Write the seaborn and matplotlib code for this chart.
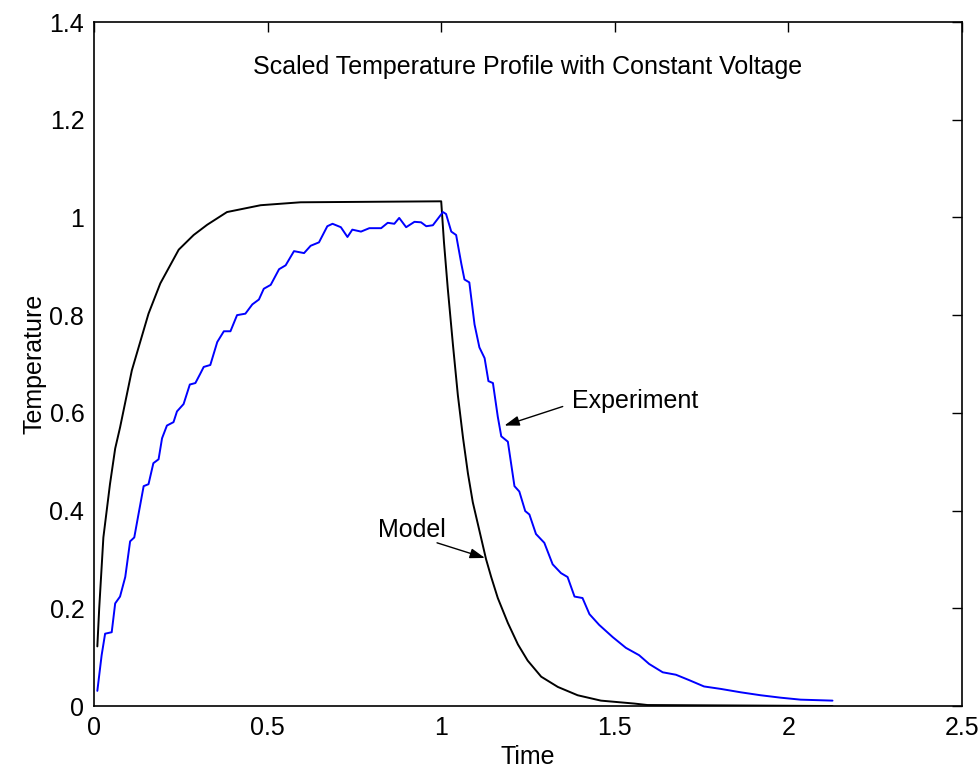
import pandas as pd
import matplotlib
matplotlib.use("Agg")
import matplotlib.pyplot as plt
import seaborn as sns

# model curve (black)
model_time = [0.0096, 0.015, 0.027, 0.046, 0.061, 0.075, 0.109, 0.133, 0.157, 0.191,
              0.244, 0.287, 0.326, 0.383, 0.48, 0.595, 1.0,
              1.008, 1.019, 1.034, 1.048, 1.063, 1.077, 1.091, 1.110, 1.129, 1.144,
              1.163, 1.192, 1.221, 1.249, 1.288, 1.336, 1.393, 1.460, 1.556, 1.594, 2.127]
model_temp = [0.122, 0.20, 0.345, 0.454, 0.527, 0.57, 0.687, 0.745, 0.803, 0.865,
              0.934, 0.964, 0.985, 1.011, 1.025, 1.031, 1.033,
              0.949, 0.854, 0.738, 0.636, 0.548, 0.476, 0.417, 0.359, 0.301, 0.264,
              0.221, 0.170, 0.126, 0.093, 0.060, 0.039, 0.022, 0.011, 0.005, 0.002, 0.0]

# experiment curve (blue)
exp_time = [0.0096, 0.022, 0.032, 0.051, 0.061, 0.075, 0.09, 0.104, 0.116, 0.128,
            0.143, 0.157, 0.171, 0.186, 0.196, 0.21, 0.229, 0.239, 0.258, 0.276,
            0.292, 0.306, 0.316, 0.335, 0.355, 0.374, 0.393, 0.412, 0.436, 0.456,
            0.475, 0.489, 0.509, 0.533, 0.552, 0.576, 0.605, 0.624, 0.648, 0.672,
            0.687, 0.711, 0.73, 0.744, 0.769, 0.793, 0.827, 0.846, 0.865, 0.879,
            0.899, 0.923, 0.942, 0.957, 0.976, 1.005, 1.014,
            1.029, 1.043, 1.058, 1.067, 1.081, 1.096, 1.11, 1.125, 1.136, 1.149,
            1.163, 1.173, 1.192, 1.211, 1.225, 1.242, 1.254, 1.273, 1.297, 1.321,
            1.345, 1.364, 1.384, 1.407, 1.427, 1.455, 1.494, 1.532, 1.57, 1.599,
            1.638, 1.676, 1.714, 1.757, 1.805, 1.863, 1.92, 1.978, 2.035, 2.127]
exp_temp = [0.031, 0.104, 0.148, 0.151, 0.21, 0.224, 0.264, 0.337, 0.345, 0.392,
            0.45, 0.454, 0.497, 0.505, 0.548, 0.574, 0.581, 0.603, 0.618, 0.658,
            0.661, 0.68, 0.694, 0.698, 0.745, 0.767, 0.767, 0.80, 0.803, 0.822,
            0.832, 0.854, 0.862, 0.894, 0.902, 0.931, 0.927, 0.942, 0.949, 0.982,
            0.987, 0.98, 0.96, 0.975, 0.971, 0.978, 0.978, 0.989, 0.987, 0.999,
            0.98, 0.991, 0.99, 0.982, 0.984, 1.011, 1.007,
            0.971, 0.964, 0.905, 0.873, 0.867, 0.781, 0.734, 0.712, 0.665, 0.661,
            0.592, 0.552, 0.541, 0.45, 0.439, 0.399, 0.392, 0.352, 0.334, 0.29,
            0.272, 0.264, 0.224, 0.221, 0.188, 0.166, 0.141, 0.119, 0.104, 0.086,
            0.069, 0.064, 0.053, 0.040, 0.035, 0.028, 0.022, 0.017, 0.013, 0.011]

x_ticks = [0, 0.5, 1, 1.5, 2, 2.5]
x_labels = ["0", "0.5", "1", "1.5", "2", "2.5"]
y_ticks = [0, 0.2, 0.4, 0.6, 0.8, 1, 1.2, 1.4]
y_labels = ["0", "0.2", "0.4", "0.6", "0.8", "1", "1.2", "1.4"]

df = pd.concat([
    pd.DataFrame({"Time": model_time, "Temperature": model_temp, "Series": "Model"}),
    pd.DataFrame({"Time": exp_time, "Temperature": exp_temp, "Series": "Experiment"}),
], ignore_index=True)

sns.set_style("white")
plt.rcParams["font.family"] = ["Liberation Sans", "DejaVu Sans"]
plt.rcParams["text.color"] = "black"
plt.rcParams["axes.labelcolor"] = "black"

fig = plt.figure(figsize=(9.8, 7.73), dpi=100)
ax = fig.add_axes([94 / 980, 1 - 706 / 773, 868 / 980, 684 / 773])

sns.lineplot(data=df, x="Time", y="Temperature", hue="Series",
             palette={"Model": "black", "Experiment": "#0000ff"},
             estimator=None, sort=False, linewidth=1.4, legend=False, ax=ax)

ax.set_xlim(0, 2.5)
ax.set_ylim(0, 1.4)
ax.set_xticks(x_ticks)
ax.set_xticklabels(x_labels)
ax.set_yticks(y_ticks)
ax.set_yticklabels(y_labels)
ax.tick_params(direction="in", length=7, width=1, top=True, right=True,
               labelsize=18, colors="black", pad=7)
for sp in ax.spines.values():
    sp.set_visible(True)
    sp.set_color("black")
    sp.set_linewidth(1.2)

ax.set_xlabel("Time", fontsize=18, labelpad=4)
ax.set_ylabel("Temperature", fontsize=18, labelpad=2)

ax.text(0.5, 0.934, "Scaled Temperature Profile with Constant Voltage",
        transform=ax.transAxes, ha="center", va="center", fontsize=18)

arrow = dict(arrowstyle="-|>,head_length=0.9,head_width=0.3", color="black",
             lw=1.0, shrinkA=0, shrinkB=0)
ax.annotate("", xy=(1.182, 0.574), xytext=(1.35, 0.613), arrowprops=arrow)
ax.text(1.377, 0.624, "Experiment", ha="left", va="center", fontsize=18)
ax.annotate("", xy=(1.126, 0.303), xytext=(0.988, 0.334), arrowprops=arrow)
ax.text(0.818, 0.36, "Model", ha="left", va="center", fontsize=18)

fig.savefig("out.png", dpi=100)
